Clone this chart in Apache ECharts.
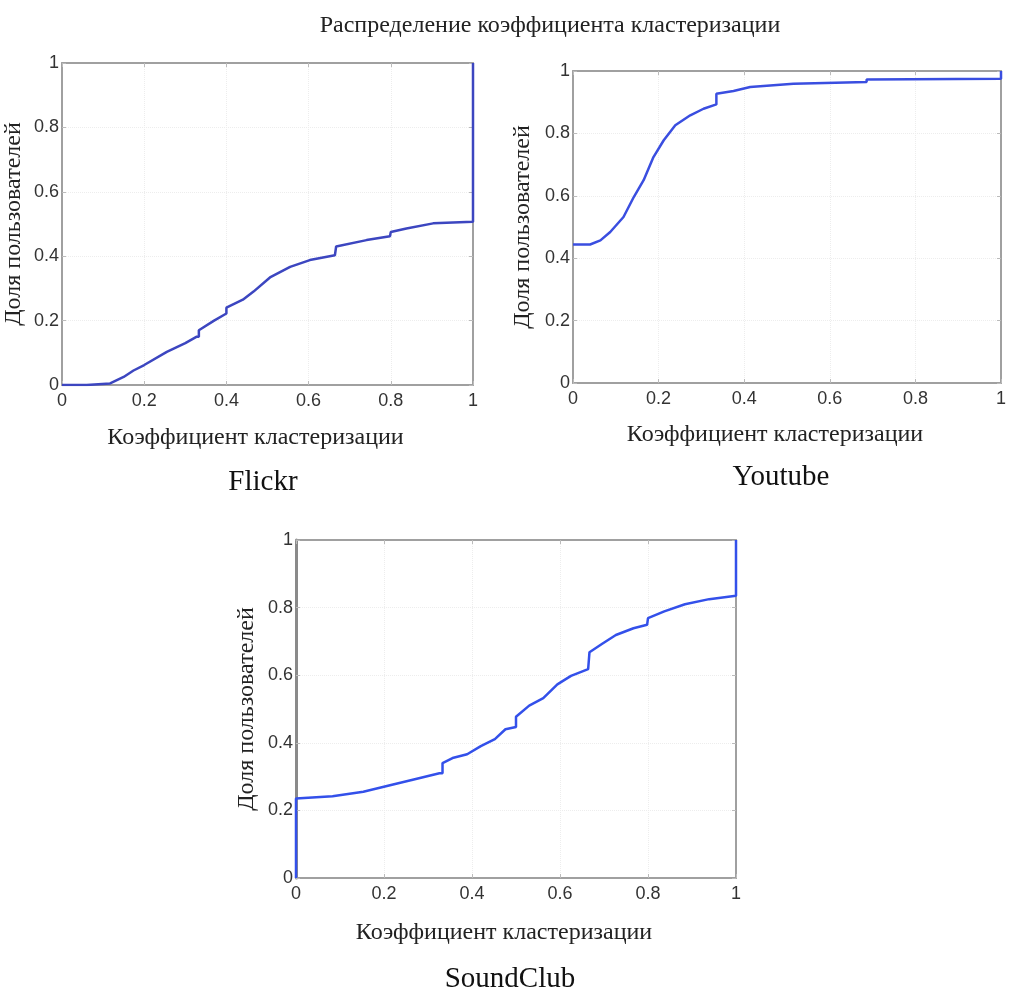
<!DOCTYPE html>
<html>
<head>
<meta charset="utf-8">
<script src="https://cdn.jsdelivr.net/npm/echarts@6/dist/echarts.min.js"></script>
<style>
  html, body { margin: 0; padding: 0; background: #fff; }
  #chart { width: 1016px; height: 1000px; }
</style>
</head>
<body>
<div id="chart"></div>
<script>
// кривые распределения (x — коэффициент, y — доля)
var flickrX = [0, 0.06, 0.117, 0.15, 0.174, 0.2, 0.255, 0.3, 0.328, 0.333, 0.333, 0.37, 0.4, 0.4, 0.44, 0.466, 0.506, 0.555, 0.603, 0.664, 0.667, 0.667, 0.741, 0.798, 0.8, 0.8, 0.838, 0.903, 1.0, 1.0];
var flickrY = [0, 0, 0.005, 0.025, 0.045, 0.062, 0.103, 0.13, 0.15, 0.15, 0.17, 0.2, 0.222, 0.24, 0.265, 0.29, 0.334, 0.367, 0.388, 0.403, 0.403, 0.43, 0.45, 0.462, 0.462, 0.475, 0.486, 0.502, 0.507, 1.0];

var youtubeX = [0, 0.04, 0.064, 0.087, 0.118, 0.142, 0.165, 0.188, 0.212, 0.239, 0.274, 0.305, 0.335, 0.335, 0.375, 0.414, 0.515, 0.686, 0.686, 1.0, 1.0];
var youtubeY = [0.444, 0.444, 0.457, 0.484, 0.532, 0.596, 0.65, 0.724, 0.778, 0.826, 0.858, 0.879, 0.893, 0.927, 0.936, 0.949, 0.959, 0.965, 0.973, 0.975, 1.0];

var soundX = [0, 0, 0.083, 0.153, 0.216, 0.263, 0.326, 0.333, 0.333, 0.358, 0.389, 0.42, 0.452, 0.476, 0.5, 0.5, 0.53, 0.562, 0.594, 0.625, 0.664, 0.667, 0.667, 0.696, 0.727, 0.767, 0.798, 0.8, 0.8, 0.837, 0.884, 0.939, 1.0, 1.0];
var soundY = [0, 0.235, 0.242, 0.255, 0.275, 0.29, 0.31, 0.31, 0.34, 0.356, 0.366, 0.39, 0.411, 0.44, 0.447, 0.477, 0.51, 0.532, 0.573, 0.598, 0.618, 0.618, 0.668, 0.693, 0.719, 0.739, 0.749, 0.749, 0.769, 0.789, 0.81, 0.825, 0.835, 1.0];

var ticks = [0, 0.2, 0.4, 0.6, 0.8, 1];
var axisTitleX = 'Коэффициент кластеризации';
var axisTitleY = 'Доля пользователей';
var panelNames = ['Flickr', 'Youtube', 'SoundClub'];

const pairs = (xs, ys) => xs.map((x, i) => [x, ys[i]]);
const fmt = v => (ticks.indexOf(+v.toFixed(1)) >= 0 ? String(+v.toFixed(1)) : '');

var serif = '"Liberation Serif", "DejaVu Serif", serif';
var sans = '"Liberation Sans", Arial, sans-serif';

var grids = [
    { left: 62, top: 63, width: 411, height: 322 },
    { left: 573, top: 71, width: 428, height: 312 },
    { left: 296, top: 540, width: 440, height: 338 }
];
var xGaps = [41, 40, 43];
var yGaps = [36, 38, 37];
var boxLine = { show: true, onZero: false, lineStyle: { color: '#a0a0a0', width: 2 } };
var tickStyle = { show: true, inside: true, length: 4, lineStyle: { color: '#bbb' } };
var gridLine = { show: true, lineStyle: { color: '#ededed', type: 'dotted' } };

var xAxes = [], yAxes = [];
grids.forEach((g, i) => {
    xAxes.push({
        type: 'value', gridIndex: i, min: 0, max: 1, interval: 0.2,
        name: axisTitleX, nameLocation: 'middle', nameGap: xGaps[i],
        nameTextStyle: { fontFamily: serif, fontSize: 24, color: '#222', padding: [0, 24, 0, 0] },
        axisLine: boxLine, axisTick: tickStyle,
        axisLabel: { fontFamily: sans, fontSize: 18, color: '#333', margin: 7, formatter: fmt },
        splitLine: gridLine
    });
    xAxes.push({
        type: 'value', gridIndex: i, min: 0, max: 1, interval: 0.2, position: 'top',
        axisLine: boxLine, axisTick: tickStyle,
        axisLabel: { show: false }, splitLine: { show: false }
    });
    yAxes.push({
        type: 'value', gridIndex: i, min: 0, max: 1, interval: 0.2,
        name: axisTitleY, nameLocation: 'middle', nameGap: yGaps[i],
        nameTextStyle: { fontFamily: serif, fontSize: 24, color: '#222' },
        // у SoundClub левая ось заметно темнее и толще
        axisLine: i === 2 ? { show: true, onZero: false, lineStyle: { color: '#8a8a8a', width: 3 } } : boxLine,
        axisTick: tickStyle,
        axisLabel: { fontFamily: sans, fontSize: 18, color: '#333', margin: 3, formatter: fmt },
        splitLine: gridLine
    });
    yAxes.push({
        type: 'value', gridIndex: i, min: 0, max: 1, interval: 0.2, position: 'right',
        axisLine: boxLine, axisTick: tickStyle,
        axisLabel: { show: false }, splitLine: { show: false }
    });
});

var lineData = [pairs(flickrX, flickrY), pairs(youtubeX, youtubeY), pairs(soundX, soundY)];
var lineColors = ['#3c46c0', '#3a4ee0', '#3350ea'];

var chart = echarts.init(document.getElementById('chart'));
chart.setOption({
    animation: false,
    title: [
        { text: 'Распределение коэффициента кластеризации', left: 545, top: 9, textAlign: 'center',
          textStyle: { fontFamily: serif, fontSize: 24, fontWeight: 'normal', color: '#222' } },
        { text: panelNames[0], left: 258, top: 463, textAlign: 'center',
          textStyle: { fontFamily: serif, fontSize: 29, fontWeight: 'normal', color: '#111' } },
        { text: panelNames[1], left: 776, top: 458, textAlign: 'center',
          textStyle: { fontFamily: serif, fontSize: 29, fontWeight: 'normal', color: '#111' } },
        { text: panelNames[2], left: 505, top: 960, textAlign: 'center',
          textStyle: { fontFamily: serif, fontSize: 29, fontWeight: 'normal', color: '#111' } }
    ],
    grid: grids,
    xAxis: xAxes,
    yAxis: yAxes,
    series: lineData.map((d, i) => ({
        type: 'line', xAxisIndex: i * 2, yAxisIndex: i * 2,
        data: d, showSymbol: false, z: 5,
        lineStyle: { color: lineColors[i], width: 2.5 }
    }))
});
</script>
</body>
</html>
